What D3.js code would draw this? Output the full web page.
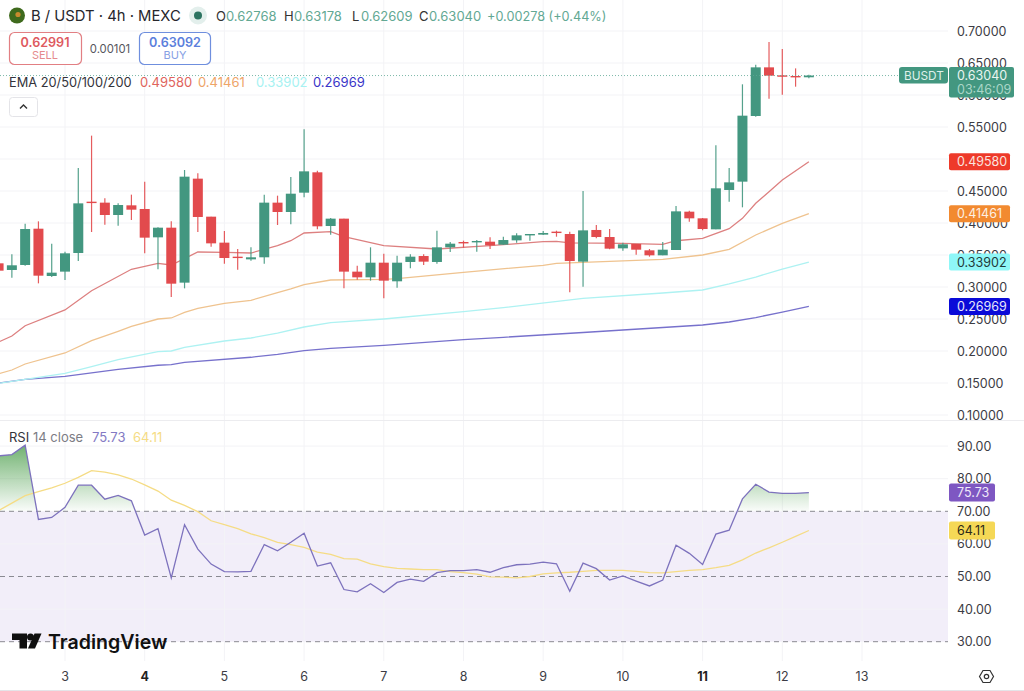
<!DOCTYPE html>
<html>
<head>
<meta charset="utf-8">
<title>B / USDT 4h</title>
<script src="https://cdn.jsdelivr.net/npm/d3@7/dist/d3.min.js"></script>
<style>
html,body{margin:0;padding:0;background:#fff}
svg{display:block}
text{font-family:Inter,"Liberation Sans",sans-serif}
</style>
</head>
<body>
<svg id="chart" width="1024" height="691"></svg>
<script>
// Four-hour candles, starting five bars before the tick for day 3
const firstBar = -5;
const opens = [.3370,.3266,.3344,.3911,.3172,.3240,.3531,.4333,.4318,.4125,.4276,.4219,.3776,.3927,.3068,.4693,.4099,.3693,.3474,.3432,.3464,.4318,.4172,.4474,.4792,.3953,.4068,.3240,.3151,.3380,.3089,.3391,.3484,.3391,.3620,.3703,.3708,.3708,.3661,.3729,.3818,.3818,.3865,.3828,.3396,.3891,.3781,.3604,.3672,.3573,.3495,.3578,.4177,.4073,.3901,.4516,.4646,.5672,.6432,.6307,.6297,.62768];
const highs = [.3370,.3510,.3989,.4026,.3677,.3552,.4859,.5365,.4385,.4307,.4443,.4646,.3932,.4026,.4828,.4776,.4099,.3875,.3594,.3620,.4443,.4427,.4719,.5464,.4818,.4078,.4068,.3333,.3620,.3521,.3490,.3510,.3510,.3880,.3703,.3724,.3734,.3776,.3786,.3839,.3828,.3875,.3880,.3865,.4500,.3969,.3906,.3693,.3672,.3594,.3703,.4266,.4193,.4078,.5213,.4859,.6167,.6474,.6828,.6719,.6416,.63178];
const lows = [.3255,.3146,.3333,.3057,.3156,.3109,.3406,.3859,.3974,.3958,.4047,.3526,.3276,.2844,.2979,.3859,.3630,.3365,.3271,.3412,.3365,.3969,.3979,.4401,.3901,.3818,.2979,.3115,.3099,.2823,.2990,.3292,.3344,.3365,.3547,.3615,.3552,.3594,.3661,.3693,.3724,.3812,.3786,.2917,.3005,.3760,.3589,.3568,.3505,.3474,.3495,.3578,.4021,.3885,.3901,.4333,.4245,.5661,.5943,.6005,.6130,.62609];
const closes = [.3255,.3339,.3906,.3177,.3224,.3526,.4307,.4318,.4125,.4281,.4208,.3771,.3927,.3052,.4724,.4094,.3682,.3453,.3458,.3464,.4318,.4172,.4458,.4807,.3948,.4068,.3240,.3151,.3380,.3099,.3380,.3474,.3396,.3620,.3677,.3688,.3719,.3651,.3734,.3807,.3828,.3844,.3849,.3406,.3885,.3781,.3599,.3667,.3583,.3495,.3583,.4182,.4073,.3906,.4542,.4635,.5677,.6432,.6302,.6292,.6281,.6304];

// Moving averages, sampled at the bars where the lines change direction
const ema20Bars = [-5,-4,-3,0,2,5,7,8,10,12,14,16,17,18,20,21,24,28,32,36,37,38,42,45,46,48,50,51,52,53,54,56];
const ema20 = [.2141,.2234,.2395,.2641,.2942,.3277,.3370,.3344,.3547,.3542,.3531,.3645,.3723,.3844,.3864,.3786,.3645,.3594,.3645,.3708,.3714,.3688,.3683,.3667,.3723,.3761,.3911,.4073,.4308,.4489,.4672,.4958];
const ema50Bars = [-5,-4,-3,0,2,4,5,7,8,9,10,12,14,16,17,18,20,24,25,30,36,37,45,48,50,52,54,56];
const ema50 = [.1645,.1703,.1797,.1969,.2161,.2308,.2386,.25,.2516,.2605,.2667,.2745,.2792,.2911,.2969,.3036,.3109,.3120,.3130,.3230,.3339,.3370,.3433,.35,.3589,.3813,.3995,.41461];
const ema100Bars = [-5,-3,0,2,4,7,8,9,12,14,16,18,20,24,30,33,39,45,48,50,52,54,56];
const ema100 = [.1495,.1558,.1652,.1755,.1864,.1989,.2,.2058,.2156,.2203,.2281,.2375,.2442,.25,.2614,.2677,.2823,.2906,.2953,.3047,.3156,.3281,.33902];
const ema200Bars = [-5,-3,0,4,7,8,9,14,16,18,20,24,30,33,39,45,48,50,52,54,56];
const ema200 = [.15,.1558,.1605,.1714,.1777,.1786,.1823,.1902,.1948,.2005,.2042,.2089,.2177,.2214,.2289,.2367,.2406,.2453,.2523,.2609,.26969];

// RSI(14) and its moving average, one value per bar
const rsi = [87.0,87.4,90.3,67.5,68.1,71.2,78.0,78.0,73.7,74.9,73.2,62.7,64.7,49.6,65.9,58.4,53.8,51.5,51.4,51.6,59.8,57.9,60.5,63.3,53.2,54.2,46.0,45.3,47.8,45.1,48.2,49.2,48.5,51.2,51.8,51.8,52.1,51.3,52.7,53.6,53.8,54.4,53.9,45.5,54.1,52.4,48.9,50.2,48.6,47.1,48.9,59.6,57.1,53.7,63.0,64.2,73.8,78.3,75.9,75.5,75.5,75.73];
const rsiMa = [70.2,72.5,74.8,76,77.2,78.6,80.4,82.5,82.0,81.2,79.9,78.1,76.2,73.4,71.8,69.9,67.1,65.9,64.7,63.1,61.9,60.5,59.8,58.9,57.5,56.8,55.5,55.3,53.9,53.0,52.5,52.3,52.1,52.1,51.5,51.2,50.7,49.9,49.8,49.6,50,50.8,51.1,51.3,51.6,51.9,51.9,51.9,51.6,51.2,51.1,51.5,51.9,52.1,52.7,53.4,55.1,57.2,58.8,60.5,62.3,64.11];

// Axis ticks
const priceTicks = [.10,.15,.20,.25,.30,.35,.40,.45,.50,.55,.60,.65,.70];
const priceLabelTicks = [.10,.15,.20,.25,.30,.35,.40,.45,.55,.60,.65,.70];
const rsiTicks = [30,40,50,60,70,80,90];
const rsiBands = [30,50,70];
const dayTicks = [3,4,5,6,7,8,9,10,11,12,13];
const boldDays = [4,11];

// Latest readings shown in the legends and price tags
const lastPrice = 0.6304;
const emaLast = [0.4958,0.41461,0.33902,0.26969];
const rsiLast = 75.73, rsiMaLast = 64.11;

const GREEN = "#439780", RED = "#e24a4d", GRID = "#f3f3f6";
const paneRight = 948;
const AXIS_SIZE = 12.5;

const svg = d3.select("#chart");

// Bars are indexed from the day-3 tick; six bars make one day
const x = d3.scaleLinear().domain([0,6]).range([65,144.7]);
const dayX = d => x((d-3)*6);
const yP = d3.scaleLinear().domain([.1,.7]).range([415,31]);
const yR = d3.scaleLinear().domain([30,70]).range([641.7,511.3]);

const defs = svg.append("defs");
defs.append("clipPath").attr("id","pane").append("rect").attr("x",0).attr("y",0).attr("width",paneRight).attr("height",420);
defs.append("clipPath").attr("id","overbought").append("rect").attr("x",0).attr("y",0).attr("width",paneRight).attr("height",yR(70));
const grad = defs.append("linearGradient").attr("id","obFill").attr("gradientUnits","userSpaceOnUse")
  .attr("x1",0).attr("x2",0).attr("y1",yR(90)).attr("y2",yR(70));
grad.append("stop").attr("offset",0).attr("stop-color","#5aa65a").attr("stop-opacity",.85);
grad.append("stop").attr("offset",1).attr("stop-color","#5aa65a").attr("stop-opacity",.03);

// Grid
const grid = svg.append("g").attr("stroke",GRID).attr("stroke-width",1);
grid.selectAll(".p").data(priceTicks).join("line").attr("x1",0).attr("x2",paneRight).attr("y1",d=>yP(d)).attr("y2",d=>yP(d));
grid.selectAll(".r").data(rsiTicks.filter(d=>!rsiBands.includes(d))).join("line").attr("x1",0).attr("x2",paneRight).attr("y1",d=>yR(d)).attr("y2",d=>yR(d));
grid.selectAll(".d").data(dayTicks).join("line").attr("x1",d=>dayX(d)).attr("x2",d=>dayX(d)).attr("y1",0).attr("y2",420);
grid.selectAll(".e").data(dayTicks).join("line").attr("x1",d=>dayX(d)).attr("x2",d=>dayX(d)).attr("y1",421).attr("y2",661);

// Pane separators
svg.append("line").attr("x1",0).attr("x2",1024).attr("y1",420.5).attr("y2",420.5).attr("stroke","#ececef");
svg.append("line").attr("x1",0).attr("x2",1024).attr("y1",690.5).attr("y2",690.5).attr("stroke","#e4e4e8");

// RSI band between 30 and 70
svg.append("rect").attr("x",0).attr("width",paneRight).attr("y",yR(70)).attr("height",yR(30)-yR(70)).attr("fill","#7e57c2").attr("opacity",.1);
grid.raise();

// Moving averages sit under the candles
const emaLine = (bars,vals,col) => svg.append("path").attr("clip-path","url(#pane)")
  .attr("d", d3.line().x((_,i)=>x(bars[i])).y(d=>yP(d))(vals))
  .attr("fill","none").attr("stroke",col).attr("stroke-width",1.3);
emaLine(ema200Bars,ema200,"#7771cc");
emaLine(ema100Bars,ema100,"#aef2f2");
emaLine(ema50Bars,ema50,"#efc38f");
emaLine(ema20Bars,ema20,"#dd8080");

// Candles
const bars = svg.append("g").attr("clip-path","url(#pane)");
const idx = d3.range(opens.length);
const barX = i => x(i+firstBar);
const col = i => closes[i]>=opens[i] ? GREEN : RED;
bars.selectAll("line").data(idx).join("line")
  .attr("x1",barX).attr("x2",barX)
  .attr("y1",i=>yP(highs[i])).attr("y2",i=>yP(lows[i]))
  .attr("stroke",col).attr("stroke-width",1.2).attr("stroke-opacity",.9);
bars.selectAll("rect").data(idx).join("rect")
  .attr("x",i=>barX(i)-5).attr("width",10)
  .attr("y",i=>yP(Math.max(opens[i],closes[i])))
  .attr("height",i=>Math.max(1.4,Math.abs(yP(opens[i])-yP(closes[i]))))
  .attr("fill",col);

// Last-price dotted line
svg.append("line").attr("x1",0).attr("x2",900).attr("y1",yP(lastPrice)).attr("y2",yP(lastPrice))
  .attr("stroke","#5ea893").attr("stroke-opacity",.8).attr("stroke-width",1).attr("stroke-dasharray","1 2");

// RSI guides
svg.append("g").selectAll("line").data(rsiBands).join("line")
  .attr("x1",0).attr("x2",paneRight).attr("y1",d=>yR(d)).attr("y2",d=>yR(d))
  .attr("stroke","#8a8a92").attr("stroke-width",1).attr("stroke-dasharray","5 4");

// RSI overbought shading, then the lines
const rx = (_,i)=>x(i+firstBar);
svg.append("path").attr("clip-path","url(#overbought)")
  .attr("d", d3.area().x(rx).y0(yR(70)).y1(d=>yR(d))(rsi))
  .attr("fill","url(#obFill)");
svg.append("path").attr("d", d3.line().x(rx).y(d=>yR(d))(rsiMa))
  .attr("fill","none").attr("stroke","#f5dc85").attr("stroke-width",1.3);
svg.append("path").attr("d", d3.line().x(rx).y(d=>yR(d))(rsi))
  .attr("fill","none").attr("stroke","#7d72bd").attr("stroke-width",1.3);

// Axes
const styleAxis = g => {
  g.select(".domain").remove();
  g.selectAll("line").remove();
  g.selectAll("text").attr("fill","#3c3c44").attr("font-size",AXIS_SIZE);
};
svg.append("g").attr("transform","translate(950,0)")
  .call(d3.axisRight(yP).tickValues(priceLabelTicks).tickFormat(d3.format(".5f")).tickSize(0).tickPadding(7))
  .call(styleAxis);
svg.append("g").attr("transform","translate(950,0)")
  .call(d3.axisRight(yR).tickValues(rsiTicks).tickFormat(d3.format(".2f")).tickSize(0).tickPadding(7))
  .call(styleAxis);
const xAxisScale = d3.scaleLinear().domain([3,13]).range([dayX(3),dayX(13)]);
svg.append("g").attr("transform","translate(-0.5,672)")
  .call(d3.axisBottom(xAxisScale).tickValues(dayTicks).tickFormat(d3.format("d")).tickSize(0).tickPadding(0))
  .call(styleAxis)
  .call(g=>g.selectAll("text").attr("font-size",12.5).attr("font-weight",d=>boldDays.includes(d)?700:400).attr("fill",d=>boldDays.includes(d)?"#222":"#3c3c44"));

// Price tags on the right axis
const tag = (xx,yy,w,h,fill,txt,tc,size) => {
  svg.append("rect").attr("x",xx).attr("y",yy).attr("width",w).attr("height",h).attr("rx",2).attr("fill",fill);
  svg.append("text").attr("x",xx+8).attr("y",yy+h/2).attr("dy","0.36em").attr("fill",tc).attr("font-size",size||AXIS_SIZE).text(txt);
};
const fmt5 = d3.format(".5f"), fmt2 = d3.format(".2f");
tag(949,yP(emaLast[0])-8.5,61,17,"#ee3a2a",fmt5(emaLast[0]),"#fbe3df");
tag(949,yP(emaLast[1])-8.5,61,17,"#f28a30",fmt5(emaLast[1]),"#fdf0e2");
tag(949,yP(emaLast[2])-8.5,61,17,"#8ff7f7",fmt5(emaLast[2]),"#1f3a3a");
tag(949,yP(emaLast[3])-8.5,61,17,"#0a0ad8",fmt5(emaLast[3]),"#e6e6fb");
svg.append("rect").attr("x",899).attr("y",67).attr("width",49).attr("height",16.5).attr("rx",3).attr("fill",GREEN);
svg.append("text").attr("x",904).attr("y",75.3).attr("dy","0.36em").attr("fill","#dff0ea").attr("font-size",11.8).text("BUSDT");
svg.append("rect").attr("x",949).attr("y",67).attr("width",65).attr("height",30.5).attr("rx",2).attr("fill",GREEN);
svg.append("text").attr("x",957).attr("y",75.3).attr("dy","0.36em").attr("fill","#eaf5f1").attr("font-size",AXIS_SIZE).text(fmt5(lastPrice));
svg.append("text").attr("x",957).attr("y",89.3).attr("dy","0.36em").attr("fill","#a9d6c7").attr("font-size",AXIS_SIZE).text("03:46:09");
tag(949,yR(rsiLast)-9,46,18,"#7e57c2",fmt2(rsiLast),"#efe9f9");
tag(949,yR(rsiMaLast)-9,46,18,"#f5d856",fmt2(rsiMaLast),"#2c2a18");

// Header row
const t = (xx,yy,s,fill,size,weight,anchor) => svg.append("text").attr("x",xx).attr("y",yy).attr("dy","0.36em")
  .attr("fill",fill).attr("font-size",size).attr("font-weight",weight||400).attr("text-anchor",anchor||"start").text(s);
svg.append("circle").attr("cx",17).attr("cy",15.5).attr("r",8).attr("fill","#3f6a1d");
svg.append("circle").attr("cx",18).attr("cy",14.5).attr("r",2.6).attr("fill","#c98a2e");
t(31,16,"B / USDT · 4h · MEXC","#26262c",14.8);
svg.append("circle").attr("cx",198).attr("cy",15.5).attr("r",9).attr("fill","#e3efec");
svg.append("circle").attr("cx",198).attr("cy",15.5).attr("r",4).attr("fill","#2c7360");
const valueGreen = "#62a893";
t(216,16,"O","#333",13); t(226,16,"0.62768",valueGreen,13);
t(284,16,"H","#333",13); t(294,16,"0.63178",valueGreen,13);
t(352,16,"L","#333",13); t(361,16,"0.62609",valueGreen,13);
t(419,16,"C","#333",13); t(429,16,"0.63040",valueGreen,13);
t(487,16,"+0.00278 (+0.44%)",valueGreen,12.7);

// Sell / buy boxes
svg.append("rect").attr("x",9.5).attr("y",32.5).attr("width",72).attr("height",32).attr("rx",5).attr("fill","#fff").attr("stroke","#e27f83").attr("stroke-width",1.2);
t(45,42,"0.62991","#de5a60",12.6,600,"middle");
t(45,55.5,"SELL","#e58a8d",11,400,"middle");
t(110,49,"0.00101","#55555c",11.3,400,"middle");
svg.append("rect").attr("x",139.5).attr("y",32.5).attr("width",71).attr("height",32).attr("rx",5).attr("fill","#fff").attr("stroke","#6f8fde").attr("stroke-width",1.2);
t(175,42,"0.63092","#5c7fdc",12.6,600,"middle");
t(175,55.5,"BUY","#86a0e4",11,400,"middle");

// Moving-average legend
t(9,82,"EMA 20/50/100/200","#33333a",12.8);
t(140,82,fmt5(emaLast[0]),"#e0645c",13);
t(198,82,fmt5(emaLast[1]),"#eea468",13);
t(256,82,fmt5(emaLast[2]),"#a6f2f2",13);
t(313,82,fmt5(emaLast[3]),"#3a35c8",13);

// Collapse button
svg.append("rect").attr("x",9.5).attr("y",97.5).attr("width",28).attr("height",19).attr("rx",3).attr("fill","#fff").attr("stroke","#e4e4e8");
svg.append("path").attr("d","M20 108.5 L23.5 105 L27 108.5").attr("fill","none").attr("stroke","#333").attr("stroke-width",1.4);

// RSI legend
t(9,437,"RSI","#33333a",13);
t(33,437,"14 close","#7c7c84",13);
t(92,437,fmt2(rsiLast),"#8379c4",13);
t(133,437,fmt2(rsiMaLast),"#f5dc85",13);

// TradingView mark
svg.append("path").attr("fill","#0f0f0f").attr("d","M12 633.5 H27 V648.5 H19.5 V640 H12 Z");
svg.append("circle").attr("cx",30.5).attr("cy",637).attr("r",3.5).attr("fill","#0f0f0f");
svg.append("path").attr("fill","#0f0f0f").attr("d","M34.5 633.5 H41.5 L35 648.5 H28 Z");
t(48,642,"TradingView","#111",19.6,600);

// Settings icon
svg.append("path").attr("fill","none").attr("stroke","#333").attr("stroke-width",1.2)
  .attr("d","M979.5 676.5 L983 670.5 H990 L993.5 676.5 L990 682.5 H983 Z");
svg.append("circle").attr("cx",986.5).attr("cy",676.5).attr("r",2.2).attr("fill","none").attr("stroke","#333").attr("stroke-width",1.2);
</script>
</body>
</html>
